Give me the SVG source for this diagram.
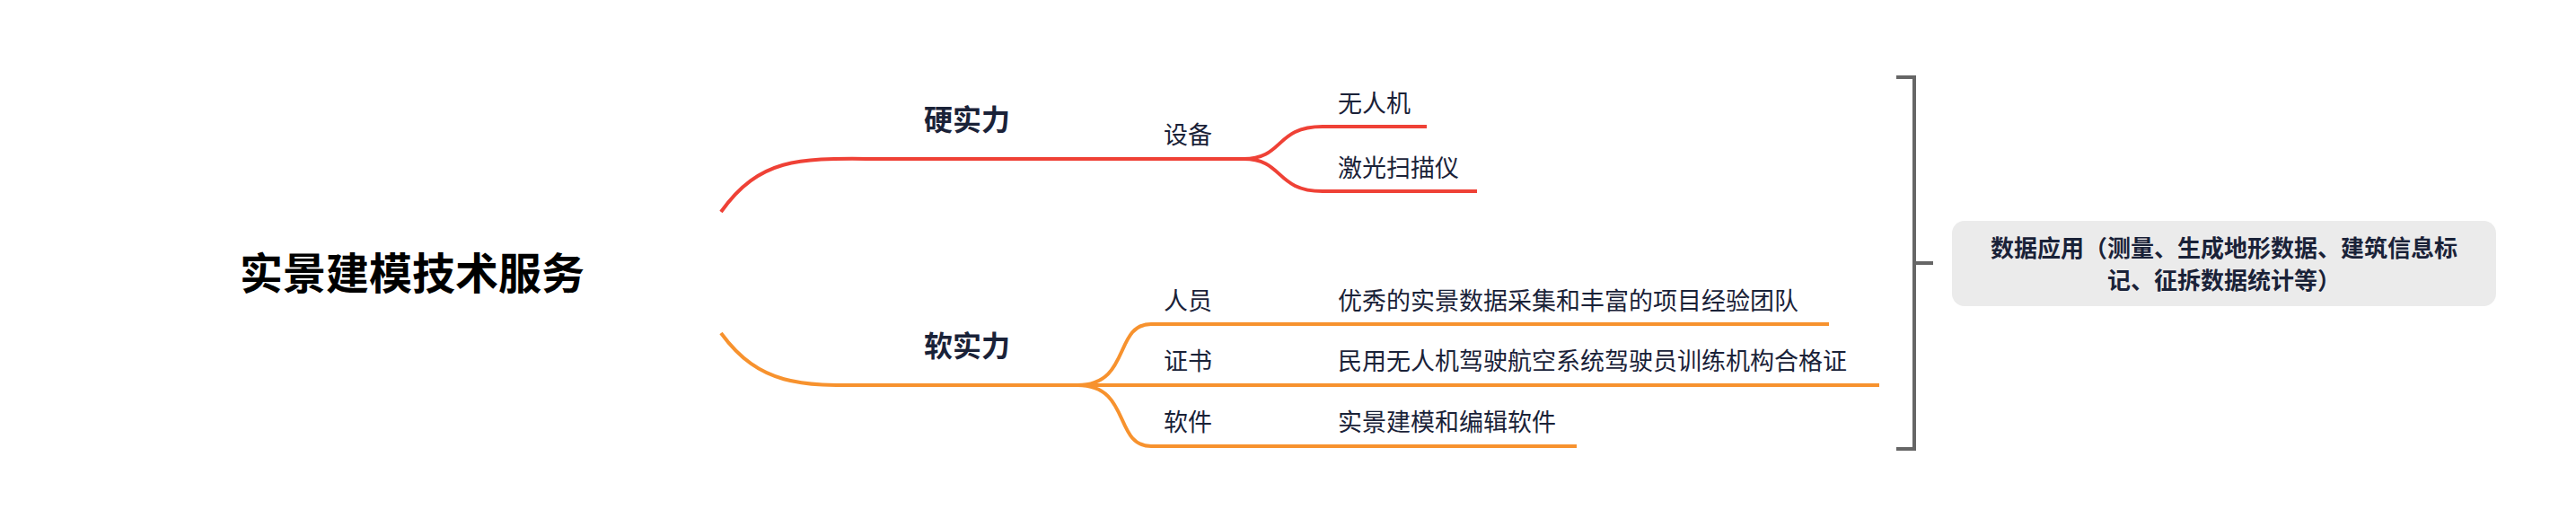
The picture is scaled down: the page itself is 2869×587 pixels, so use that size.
<svg xmlns="http://www.w3.org/2000/svg" width="2869" height="587" viewBox="0 0 2869 587">
<style>
text{font-family:"Noto Sans CJK SC","Noto Sans",sans-serif;fill:#1a2238}
.t{font-size:27px}
.b{font-weight:bold}
.r{stroke:#ef4136;fill:none;stroke-width:4}
.o{stroke:#f7922e;fill:none;stroke-width:4}
.k{stroke:#666;fill:none;stroke-width:4}
</style>
<rect width="2869" height="587" fill="#fff"/>
<g id="connectors">
<path d="M803,236 C850,170 900,177 988,177" class="r" stroke-width="8"/>
<path d="M988,177 H1385 C1430,177 1420,141 1473,141 H1589 M1385,177 C1430,177 1420,213 1473,213 H1645" class="r"/>
<path d="M803,371 C850,435 900,429 988,429" class="o" stroke-width="8"/>
<path d="M988,429 H1200 C1260,429 1240,361 1282,361 H2037 M1200,429 H2093 M1200,429 C1260,429 1240,497 1282,497 H1756" class="o"/>
<path d="M2112,86 H2132 V500 H2112 M2132,293 H2153" class="k"/>
</g>
<g id="root"><text x="267" y="322" font-size="48" class="b" fill="#000" style="fill:#000">实景建模技术服务</text></g>
<g id="hard"><text x="1029" y="145" font-size="32" class="b">硬实力</text></g>
<g id="soft"><text x="1029" y="397" font-size="32" class="b">软实力</text></g>
<g id="equip"><text x="1296" y="160" class="t">设备</text></g>
<g id="uav"><text x="1490" y="125" class="t">无人机</text></g>
<g id="laser"><text x="1490" y="197" class="t">激光扫描仪</text></g>
<g id="people"><text x="1296" y="345" class="t">人员</text></g>
<g id="team"><text x="1490" y="345" class="t">优秀的实景数据采集和丰富的项目经验团队</text></g>
<g id="cert"><text x="1296" y="412" class="t">证书</text></g>
<g id="certtext"><text x="1490" y="412" class="t">民用无人机驾驶航空系统驾驶员训练机构合格证</text></g>
<g id="sw"><text x="1296" y="480" class="t">软件</text></g>
<g id="swtext"><text x="1490" y="480" class="t">实景建模和编辑软件</text></g>
<g id="data">
<rect x="2174" y="246" width="606" height="95" rx="14" fill="#ebebeb"/>
<text x="2477" y="286" font-size="26" class="b" text-anchor="middle">数据应用（测量、生成地形数据、建筑信息标</text>
<text x="2477" y="322" font-size="26" class="b" text-anchor="middle">记、征拆数据统计等）</text>
</g>
</svg>
